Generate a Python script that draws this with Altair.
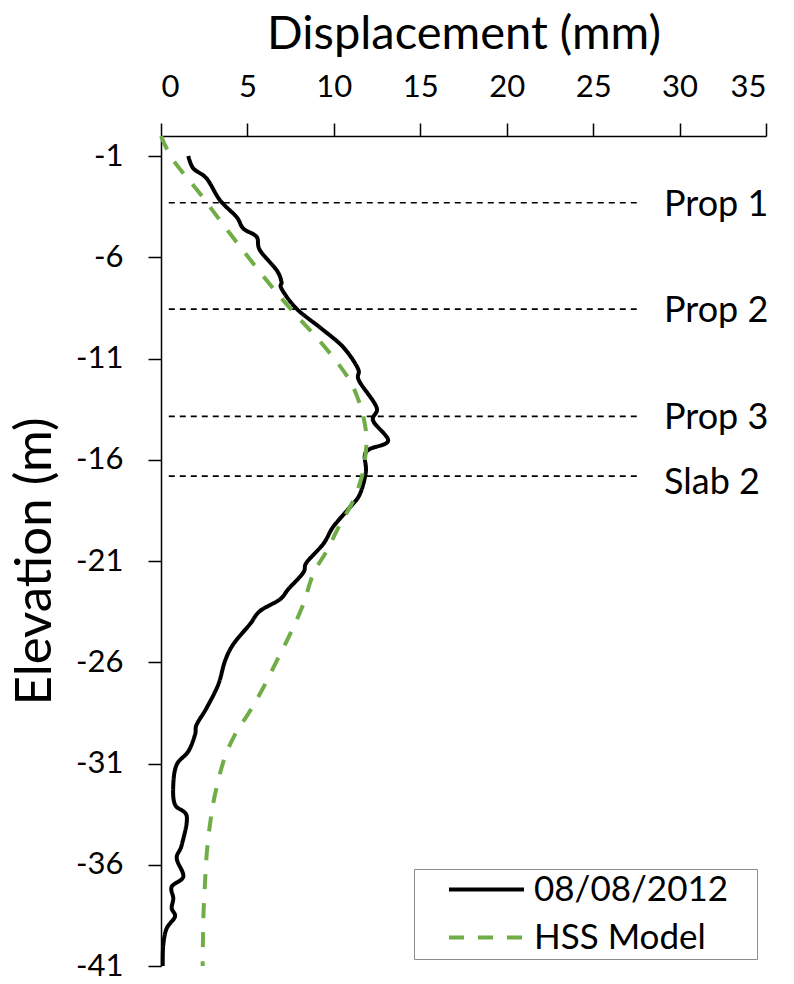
import altair as alt
import pandas as pd

# ---- data ----
series_names = ["08/08/2012", "HSS Model"]

meas_disp = [1.58, 1.87, 2.64, 3.41, 4.37, 4.76, 5.53, 5.72, 6.69, 6.97, 6.97, 7.84, 9.29, 10.54,
             11.4, 11.45, 12.47, 12.27, 13.14, 12.08, 11.79, 11.85, 11.5, 10.92, 10.25, 9.87, 9.38,
             8.42, 8.23, 7.36, 6.88, 5.72, 5.14, 4.18, 3.7, 3.31, 2.64, 2.06, 1.97, 1.58, 0.91, 0.71,
             0.81, 1.49, 1.2, 0.91, 1.29, 0.62, 0.71, 0.62, 0.81, 0.33, 0.13, 0.1]
meas_elev = [-0.99, -1.6, -2.1, -3.17, -4.0, -4.57, -4.98, -5.64, -6.63, -7.2, -7.54, -8.53, -9.52,
             -10.43, -11.5, -12.08, -13.4, -14.06, -15.05, -15.46, -15.79, -16.6, -17.7, -18.35,
             -19.0, -19.42, -20.16, -21.07, -21.57, -22.39, -22.89, -23.47, -24.12, -25.11, -25.94,
             -27.1, -28.25, -29.08, -29.57, -30.4, -31.05, -32.05, -33.03, -33.61, -35.02, -35.68,
             -36.58, -37.08, -37.66, -38.15, -38.56, -39.14, -39.97, -41.0]

hss_disp = [0.0, 0.71, 2.25, 3.99, 6.11, 7.65, 8.81, 9.96, 10.92, 11.5, 11.79, 11.89, 11.79, 11.6,
            11.12, 10.35, 9.58, 8.8, 8.23, 7.46, 6.69, 5.91, 5.14, 4.28, 3.65, 3.12, 2.83, 2.64,
            2.54, 2.45, 2.41]
hss_elev = [0.0, -1.19, -2.84, -4.82, -7.13, -8.69, -9.77, -10.93, -12.08, -13.23, -14.22, -15.05,
            -16.04, -16.87, -18.02, -19.2, -20.5, -21.65, -23.13, -24.62, -25.94, -27.26, -28.42,
            -29.57, -30.8, -32.54, -34.03, -35.51, -37.0, -38.65, -41.0]

level_names = ["Prop 1", "Prop 2", "Prop 3", "Slab 2"]
level_elev = [-3.3, -8.55, -13.85, -16.8]
label_elev = [-3.4, -8.65, -13.95, -17.15]

x_ticks = [0, 5, 10, 15, 20, 25, 30, 35]
y_ticks = [-1, -6, -11, -16, -21, -26, -31, -36, -41]

# ---- tables ----
rows = []
for i, (d, e) in enumerate(zip(meas_disp, meas_elev)):
    rows.append({"series": series_names[0], "disp": d, "elev": e, "idx": i})
for i, (d, e) in enumerate(zip(hss_disp, hss_elev)):
    rows.append({"series": series_names[1], "disp": d, "elev": e, "idx": i})
df = pd.DataFrame(rows)
levels = pd.DataFrame({"name": level_names, "elev": level_elev, "label_elev": label_elev})

FONT = "Lato"

x_scale = alt.Scale(domain=[0, 35], nice=False, zero=False)
y_scale = alt.Scale(domain=[-41, 0], nice=False, zero=False)

legend = alt.Legend(
    title=" ", titleOrient="right", titlePadding=26, titleFontSize=10,
    orient="none", legendX=253, legendY=733,
    symbolType="M-2.5,0H2.5", symbolSize=900, symbolStrokeWidth=4, symbolOffset=52,
    labelFont=FONT, labelFontSize=35, labelColor="black", labelOffset=30, labelLimit=400,
    rowPadding=12, padding=3, strokeColor="#8c8c8c", fillColor="white",
)

lines = alt.Chart(df).mark_line(strokeWidth=4, interpolate="cardinal").encode(
    x=alt.X("disp:Q", scale=x_scale,
            axis=alt.Axis(orient="top", values=x_ticks, title="Displacement (mm)",
                          titleY=-88, titleBaseline="alphabetic", titleFontSize=47)),
    y=alt.Y("elev:Q", scale=y_scale,
            axis=alt.Axis(values=y_ticks, title="Elevation (m)", titleX=-111, titleY=425,
                          titleAngle=-90, titleBaseline="alphabetic", titleFontSize=51,
                          labelPadding=25, labelExpr="'' + datum.value")),
    color=alt.Color("series:N", scale=alt.Scale(domain=series_names, range=["#000000", "#70AD47"]),
                    legend=legend),
    strokeDash=alt.StrokeDash("series:N", scale=alt.Scale(domain=series_names, range=[[1, 0], [15, 14]]),
                              legend=legend),
    order=alt.Order("idx:Q"),
)

rules = alt.Chart(levels).mark_rule(color="black", strokeWidth=1.6, strokeDash=[6, 5]).encode(
    x=alt.datum(0.45, scale=x_scale),
    x2=alt.datum(27.7),
    y=alt.Y("elev:Q", scale=y_scale),
)

labels = alt.Chart(levels).mark_text(align="left", baseline="middle", font=FONT, fontSize=36,
                                     color="black").encode(
    x=alt.datum(29.1, scale=x_scale),
    y=alt.Y("label_elev:Q", scale=y_scale),
    text="name:N",
)

chart = alt.layer(rules, lines, labels).properties(
    width=605, height=830,
    autosize=alt.AutoSizeParams(type="none"),
    padding={"left": 161, "top": 136, "right": 28, "bottom": 18},
).configure_view(stroke=None).configure_axis(
    grid=False, domainColor="black", domainWidth=1.5, tickColor="black", tickWidth=1.5,
    tickSize=13, labelFont=FONT, labelFontSize=31, labelColor="black", labelPadding=20,
    titleFont=FONT, titleFontWeight="normal", titleColor="black",
)

chart.save("out.html", embed_options={"renderer": "svg", "actions": False})
